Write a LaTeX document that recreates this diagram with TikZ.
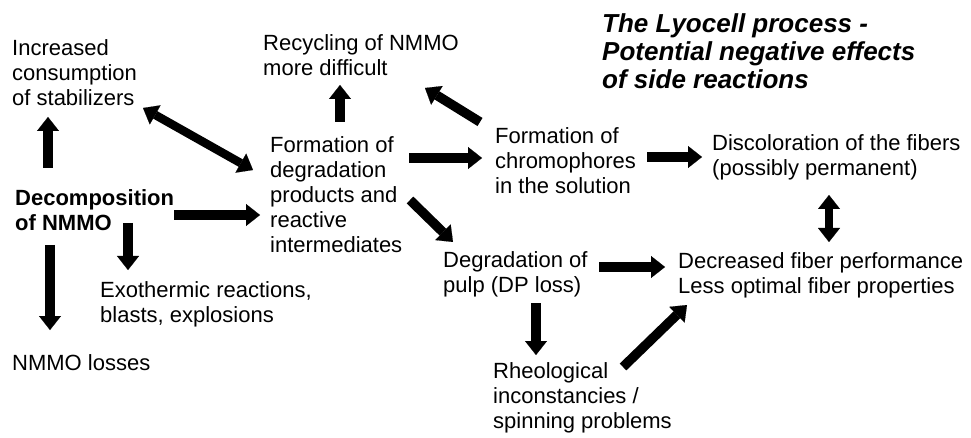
\documentclass[tikz,border=0pt]{standalone}
\usepackage{fontspec}
\setmainfont{Liberation Sans}
\usetikzlibrary{arrows.meta}
\tikzset{
  txt/.style={anchor=north west, inner sep=0pt, align=left, font=\fontsize{22}{25}\selectfont},
  ttl/.style={anchor=north west, inner sep=0pt, align=left, font=\fontsize{26}{28}\selectfont\bfseries\itshape},
  big/.style={line width=9.5pt, -{Triangle[width=22pt,length=14pt,line width=0.1pt]}},
  bigboth/.style={line width=8.5pt, {Triangle[width=22pt,length=14pt,line width=0.1pt]}-{Triangle[width=22pt,length=14pt,line width=0.1pt]}}
}
\begin{document}
\begin{tikzpicture}[x=1pt,y=-1pt]
\useasboundingbox[fill=white] (0,0) rectangle (971,438);
% texts
\node[txt] (inc) at (12,39) {Increased\\consumption\\of stabilizers};
\node[txt] (rec) at (263,34) {Recycling of NMMO\\more difficult};
\node[ttl] (title) at (602,13) {The Lyocell process -\\Potential negative effects\\of side reactions};
\node[txt, font=\fontsize{22}{25}\selectfont\bfseries] (dec) at (15,189) {Decomposition\\of NMMO};
\node[txt] (fdeg) at (270,136) {Formation of\\degradation\\products and\\reactive\\intermediates};
\node[txt] (fchr) at (495,127) {Formation of\\chromophores\\in the solution};
\node[txt] (disc) at (712,134) {Discoloration of the fibers\\(possibly permanent)};
\node[txt] (dpulp) at (443,251) {Degradation of\\pulp (DP loss)};
\node[txt] (decr) at (678,252) {Decreased fiber performance\\Less optimal fiber properties};
\node[txt] (rheo) at (493,362) {Rheological\\inconstancies /\\spinning problems};
\node[txt] (exo) at (100,281) {Exothermic reactions,\\blasts, explosions};
\node[txt] (loss) at (12,354) {NMMO losses};
% arrow end points
\coordinate (a1s) at (48,168);  \coordinate (a1e) at (48,117);
\coordinate (a2s) at (143,108); \coordinate (a2e) at (253,170);
\coordinate (a3s) at (174,215); \coordinate (a3e) at (260,215);
\coordinate (a4s) at (128,223); \coordinate (a4e) at (128,270);
\coordinate (a5s) at (50,245);  \coordinate (a5e) at (50,330);
\coordinate (a6s) at (340,122); \coordinate (a6e) at (340,85);
\coordinate (a7s) at (480,122); \coordinate (a7e) at (425,88);
\coordinate (a8s) at (409,158); \coordinate (a8e) at (482,158);
\coordinate (a9s) at (410,200); \coordinate (a9e) at (453,242);
\coordinate (a10s) at (647,157); \coordinate (a10e) at (702,157);
\coordinate (a11s) at (829,195); \coordinate (a11e) at (829,242);
\coordinate (a12s) at (599,267); \coordinate (a12e) at (665,267);
\coordinate (a13s) at (536,303); \coordinate (a13e) at (536,355);
\coordinate (a14s) at (623,367); \coordinate (a14e) at (687,305);
% arrows
\draw[big] (a1s) -- (a1e);
\draw[bigboth] (a2s) -- (a2e);
\draw[big] (a3s) -- (a3e);
\draw[big] (a4s) -- (a4e);
\draw[big] (a5s) -- (a5e);
\draw[big] (a6s) -- (a6e);
\draw[big] (a7s) -- (a7e);
\draw[big] (a8s) -- (a8e);
\draw[big] (a9s) -- (a9e);
\draw[big] (a10s) -- (a10e);
\draw[bigboth] (a11s) -- (a11e);
\draw[big] (a12s) -- (a12e);
\draw[big] (a13s) -- (a13e);
\draw[big] (a14s) -- (a14e);
\end{tikzpicture}
\end{document}
